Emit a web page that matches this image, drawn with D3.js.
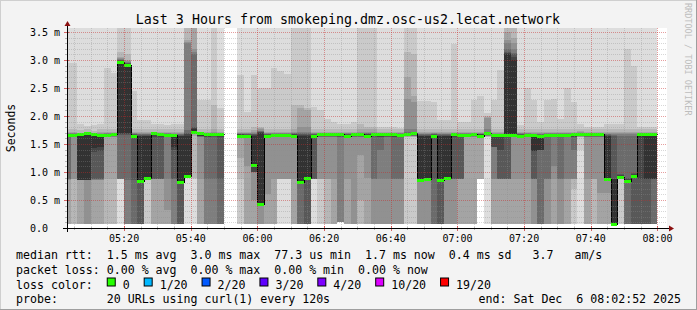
<!DOCTYPE html>
<html>
<head>
<meta charset="utf-8">
<script src="https://cdn.jsdelivr.net/npm/d3@7"></script>
<style>
  html, body { margin: 0; padding: 0; background: #f3f3f3; }
  svg { display: block; }
  text { font-family: "DejaVu Sans Mono", monospace; fill: #000; }
</style>
</head>
<body>
<svg id="chart" width="697" height="310"></svg>
<script>
// SMOKEPING CHART //

// 2 minute steps, first one begins at 05:02 (UTC, as printed on the chart)
const stepStart = Date.UTC(2025, 11, 6, 5, 2)
const stepMs = 120000

// median rtt per step in ms (null = no data)
const median = [
  1.66, 1.66, 1.67, 1.69, 1.67, 1.66, 1.66, 1.67, 2.97, 2.91,
  1.64, 0.84, 0.90, 1.69, 1.67, 1.66, 1.66, 0.82, 0.93, 1.71,
  1.69, 1.67, 1.67, 1.67, null, null, 1.65, 1.65, 1.13, 0.43,
  1.65, 1.66, 1.66, 1.66, 1.65, 0.82, 0.90, 1.65, 1.68, 1.68,
  1.67, 1.67, 1.65, 1.67, 1.67, 1.65, 1.67, 1.67, 1.67, 1.67,
  1.66, 1.68, 1.69, 0.85, 0.87, 1.65, 0.85, 0.90, 1.67, 1.66,
  1.66, 1.67, 1.64, 1.70, 1.66, 1.66, 1.66, 1.66, 1.65, 1.66,
  1.66, 1.65, 1.66, 1.66, 1.66, 1.66, 1.68, 1.68, 1.67, 1.67,
  1.67, 0.87, 0.08, 0.91, 0.84, 0.92, 1.68, 1.68, 1.68
]

// the 20 sorted pings of every step in ms (null = no data)
const pings = [
  [0.08,0.08,0.08,0.08,0.86,0.87,0.88,1.62,1.63,1.64,1.65,1.66,1.67,1.68,1.69,1.70,1.72,1.76,2.94,3.80],
  [0.08,0.08,0.08,0.87,0.88,1.62,1.63,1.64,1.65,1.65,1.66,1.66,1.67,1.68,1.69,1.70,1.72,1.76,2.94,3.80],
  [0.08,0.08,0.08,0.08,0.85,0.85,0.85,0.86,0.86,0.86,1.65,1.66,1.67,1.67,1.68,1.69,1.70,1.75,1.85,3.80],
  [0.08,0.08,0.08,0.08,0.08,0.85,0.85,0.86,0.86,0.86,1.66,1.68,1.69,1.69,1.70,1.71,1.72,1.76,1.82,3.80],
  [0.08,0.08,0.08,0.08,0.86,0.86,0.87,0.87,1.35,1.42,1.64,1.66,1.67,1.67,1.68,1.69,1.70,1.74,1.84,3.80],
  [0.08,0.08,0.08,0.08,0.86,0.86,0.87,0.87,1.38,1.45,1.64,1.65,1.66,1.67,1.68,1.69,1.71,1.76,1.86,3.80],
  [0.08,0.08,0.08,0.88,1.62,1.63,1.64,1.65,1.65,1.66,1.66,1.67,1.67,1.68,1.69,1.70,1.72,1.76,2.85,3.80],
  [0.08,0.08,0.08,0.88,1.62,1.63,1.64,1.65,1.65,1.66,1.66,1.67,1.67,1.68,1.69,1.70,1.72,1.76,2.76,3.80],
  [0.08,0.87,0.87,0.87,0.87,0.87,0.87,1.66,1.68,1.70,2.97,2.98,3.00,3.00,3.02,3.04,3.06,3.15,3.70,3.80],
  [0.08,0.08,0.08,0.08,0.08,0.08,0.85,1.66,1.68,1.70,2.92,2.93,2.94,2.95,2.96,2.98,3.00,3.10,3.70,3.80],
  [0.08,0.08,0.08,0.08,0.08,0.08,0.08,0.85,1.62,1.64,1.65,1.66,1.67,1.68,1.69,1.70,1.72,1.76,2.45,3.80],
  [0.08,0.08,0.08,0.08,0.08,0.08,0.08,0.08,0.84,0.84,1.64,1.65,1.66,1.67,1.68,1.70,1.72,1.76,1.92,3.80],
  [0.08,0.08,0.90,0.90,0.90,0.90,0.90,0.90,0.90,0.90,1.64,1.65,1.66,1.67,1.68,1.70,1.72,1.76,1.92,3.80],
  [0.08,0.08,0.08,0.08,0.87,0.87,0.87,0.87,1.62,1.64,1.65,1.66,1.67,1.68,1.69,1.70,1.72,1.76,1.86,3.80],
  [0.08,0.08,0.08,0.08,0.87,0.87,0.87,0.87,1.62,1.64,1.65,1.66,1.67,1.68,1.69,1.70,1.72,1.76,1.86,3.80],
  [0.08,0.08,0.08,0.08,0.32,0.87,1.62,1.63,1.64,1.65,1.66,1.66,1.67,1.68,1.69,1.70,1.72,1.76,1.84,3.80],
  [0.08,0.08,0.08,0.08,0.08,0.08,0.87,0.87,1.40,1.45,1.64,1.65,1.66,1.67,1.68,1.70,1.72,1.76,1.85,3.80],
  [0.08,0.08,0.08,0.08,0.08,0.08,0.08,0.08,0.82,0.82,1.64,1.65,1.66,1.67,1.68,1.70,1.72,1.76,1.85,3.80],
  [0.08,0.90,0.90,0.90,0.90,0.90,0.90,0.90,0.90,0.93,1.65,1.68,1.70,1.75,3.30,3.32,3.35,3.70,3.75,3.80],
  [0.08,0.87,0.90,1.65,1.68,1.70,1.71,1.72,1.73,1.74,1.76,1.78,1.80,3.10,3.15,3.20,3.70,3.75,3.80,3.85],
  [0.08,0.08,0.08,0.08,0.87,1.62,1.63,1.64,1.65,1.65,1.66,1.66,1.67,1.68,1.69,1.70,1.72,1.76,2.28,3.80],
  [0.08,0.08,0.08,0.08,0.08,0.08,0.87,1.62,1.63,1.64,1.65,1.66,1.67,1.68,1.69,1.70,1.72,1.76,2.28,3.80],
  [0.08,0.08,0.08,0.08,0.08,0.08,0.87,1.62,1.64,1.65,1.66,1.67,1.68,1.69,1.70,1.72,1.76,2.20,3.70,3.80],
  [0.08,0.08,0.08,0.08,0.08,0.08,0.08,0.87,1.62,1.64,1.65,1.66,1.67,1.68,1.69,1.70,1.72,1.76,2.15,3.80],
  null,
  null,
  [0.08,0.08,0.87,1.25,1.62,1.63,1.64,1.65,1.65,1.66,1.66,1.67,1.67,1.68,1.69,1.70,1.72,1.76,2.73,3.80],
  [0.08,0.08,0.08,0.08,1.10,1.62,1.63,1.64,1.65,1.65,1.66,1.66,1.67,1.68,1.69,1.70,1.72,1.76,2.07,3.80],
  [0.08,0.08,0.08,0.08,0.50,1.00,1.00,1.00,1.00,1.13,1.65,1.66,1.67,1.68,1.70,1.72,1.75,1.80,2.73,3.80],
  [0.08,0.08,0.08,0.08,0.08,0.43,0.43,0.43,0.43,0.43,1.70,1.71,1.72,1.73,1.74,1.76,1.78,1.80,2.50,3.80],
  [0.08,0.08,0.08,0.08,0.60,1.62,1.63,1.64,1.65,1.65,1.66,1.66,1.67,1.68,1.69,1.70,1.72,1.76,2.50,3.80],
  [0.08,0.08,0.08,0.08,0.87,1.62,1.63,1.64,1.65,1.65,1.66,1.66,1.67,1.68,1.69,1.70,1.72,1.76,2.86,3.80],
  [0.08,0.87,0.87,0.87,0.87,1.62,1.63,1.64,1.65,1.65,1.66,1.66,1.67,1.68,1.69,1.70,1.72,1.76,2.80,3.80],
  [0.08,0.87,0.87,0.87,0.87,1.62,1.63,1.64,1.65,1.65,1.66,1.66,1.67,1.68,1.69,1.70,1.72,1.76,2.75,3.80],
  [0.08,0.08,0.08,0.08,0.87,1.62,1.63,1.64,1.65,1.66,1.66,1.67,1.68,1.69,1.70,1.72,1.76,2.20,3.70,3.80],
  [0.08,0.08,0.08,0.08,0.08,0.08,0.08,0.82,0.82,0.82,1.65,1.66,1.68,1.70,1.72,1.80,2.15,2.20,3.70,3.80],
  [0.08,0.08,0.08,0.08,0.08,0.08,0.08,0.08,0.90,0.90,1.65,1.66,1.68,1.70,1.72,1.80,2.10,2.15,3.70,3.80],
  [0.08,0.87,0.87,0.87,0.87,0.87,0.87,0.87,1.62,1.64,1.65,1.66,1.67,1.68,1.69,1.70,1.72,1.76,2.16,3.80],
  [0.08,0.08,0.87,0.87,0.87,1.62,1.63,1.64,1.65,1.65,1.66,1.66,1.67,1.68,1.69,1.70,1.72,1.76,2.10,3.80],
  [0.08,0.08,0.08,0.87,0.87,1.62,1.63,1.64,1.65,1.65,1.66,1.66,1.67,1.68,1.69,1.70,1.72,1.76,1.95,3.80],
  [0.08,0.08,0.08,0.08,0.87,1.62,1.63,1.64,1.65,1.65,1.66,1.66,1.67,1.68,1.69,1.70,1.72,1.76,1.90,3.80],
  [0.10,0.10,0.10,0.10,0.10,0.10,1.62,1.63,1.64,1.65,1.66,1.66,1.67,1.68,1.69,1.70,1.72,1.76,1.85,3.80],
  [0.08,0.08,0.08,0.08,0.87,1.62,1.63,1.64,1.65,1.65,1.66,1.66,1.67,1.68,1.69,1.70,1.72,1.76,1.85,3.80],
  [0.08,0.08,0.08,0.08,0.08,1.62,1.63,1.64,1.65,1.65,1.66,1.66,1.67,1.68,1.69,1.70,1.72,1.76,1.90,3.80],
  [0.08,0.08,0.08,0.50,1.30,1.62,1.63,1.64,1.65,1.66,1.66,1.67,1.68,1.69,1.70,1.72,1.76,1.85,3.70,3.80],
  [0.08,0.08,0.08,0.08,0.90,1.62,1.63,1.64,1.65,1.66,1.66,1.67,1.68,1.69,1.70,1.72,1.76,1.80,3.70,3.80],
  [0.08,0.08,0.08,0.08,0.08,0.87,0.87,1.62,1.64,1.65,1.66,1.67,1.68,1.69,1.70,1.72,1.76,1.80,3.70,3.80],
  [0.08,0.08,0.08,0.08,0.08,0.87,1.40,1.62,1.63,1.64,1.65,1.66,1.67,1.68,1.69,1.70,1.72,1.76,1.80,3.80],
  [0.08,0.08,0.08,0.08,0.08,0.87,1.62,1.63,1.64,1.65,1.66,1.66,1.67,1.68,1.69,1.70,1.72,1.76,1.80,3.80],
  [0.08,0.08,0.08,0.08,0.08,0.87,0.87,1.62,1.63,1.64,1.65,1.66,1.67,1.68,1.69,1.70,1.72,1.76,1.80,3.80],
  [0.08,0.08,0.08,0.08,0.08,0.87,0.87,1.62,1.63,1.64,1.65,1.66,1.67,1.68,1.69,1.70,1.72,1.76,1.78,3.80],
  [0.08,0.08,1.62,1.63,1.64,1.65,1.65,1.66,1.66,1.67,1.68,1.69,1.70,1.72,1.76,2.30,2.70,3.15,3.70,3.80],
  [0.08,0.08,1.62,1.63,1.64,1.65,1.65,1.66,1.66,1.67,1.68,1.69,1.70,1.72,1.76,2.25,2.35,3.10,3.70,3.80],
  [0.08,0.08,0.08,0.08,0.08,0.85,0.85,0.85,0.85,0.85,1.64,1.65,1.66,1.67,1.68,1.70,1.72,1.76,2.26,3.80],
  [0.08,0.08,0.08,0.08,0.08,0.87,0.87,0.87,0.87,0.87,1.64,1.65,1.66,1.67,1.68,1.70,1.72,1.76,2.26,3.80],
  [0.08,0.08,0.08,0.08,0.08,0.08,0.08,0.87,1.62,1.64,1.65,1.66,1.67,1.68,1.69,1.70,1.72,1.76,2.25,3.80],
  [0.08,0.08,0.08,0.08,0.08,0.08,0.08,0.08,0.85,0.85,1.64,1.65,1.66,1.67,1.68,1.70,1.72,1.76,1.93,3.80],
  [0.08,0.08,0.08,0.08,0.08,0.90,0.90,0.90,0.90,0.90,1.64,1.65,1.66,1.67,1.68,1.70,1.72,1.76,1.93,3.80],
  [0.08,0.08,0.08,0.08,0.08,0.87,0.87,0.87,1.62,1.64,1.65,1.66,1.67,1.68,1.69,1.70,1.72,1.76,3.29,3.80],
  [0.08,0.08,0.08,0.08,0.87,0.87,0.87,0.87,1.62,1.64,1.65,1.66,1.67,1.68,1.69,1.70,1.72,1.76,1.90,3.80],
  [0.08,0.08,0.08,0.08,1.62,1.63,1.64,1.65,1.65,1.66,1.66,1.67,1.67,1.68,1.69,1.70,1.72,1.76,1.90,3.80],
  [0.08,0.08,0.08,0.08,1.62,1.63,1.64,1.65,1.65,1.66,1.66,1.67,1.67,1.68,1.69,1.70,1.72,1.76,2.28,3.80],
  [0.87,0.87,0.87,0.87,1.62,1.63,1.64,1.65,1.65,1.66,1.66,1.67,1.67,1.68,1.69,1.70,1.72,1.76,2.35,3.80],
  [0.08,1.62,1.63,1.64,1.65,1.65,1.66,1.66,1.67,1.67,1.68,1.69,1.70,1.72,1.76,1.96,1.98,2.00,2.05,3.80],
  [0.08,0.08,0.08,0.08,0.87,0.87,1.45,1.45,1.45,1.63,1.64,1.65,1.66,1.67,1.68,1.70,1.72,1.76,2.28,3.80],
  [0.08,0.08,0.08,0.08,0.87,0.87,0.87,0.87,1.40,1.63,1.64,1.65,1.66,1.67,1.68,1.70,1.72,1.76,2.82,3.80],
  [0.08,0.08,0.08,0.08,0.87,0.87,0.87,0.87,1.62,1.66,3.10,3.12,3.15,3.20,3.30,3.35,3.50,3.70,3.75,3.80],
  [0.08,0.08,0.08,0.08,0.87,1.62,1.63,1.64,1.65,1.66,3.00,3.05,3.10,3.12,3.20,3.30,3.40,3.70,3.75,3.80],
  [0.08,0.08,0.08,0.08,0.87,1.62,1.63,1.64,1.65,1.65,1.66,1.66,1.67,1.68,1.69,1.70,1.72,1.76,1.84,3.80],
  [0.08,0.08,0.08,0.08,0.87,1.62,1.63,1.64,1.65,1.65,1.66,1.66,1.67,1.68,1.69,1.70,1.72,1.76,2.50,3.80],
  [0.08,0.08,0.08,0.08,0.08,0.87,0.87,0.87,1.38,1.38,1.64,1.65,1.66,1.67,1.68,1.70,1.72,1.76,2.28,3.80],
  [0.08,0.08,0.08,0.08,0.08,0.08,0.08,1.40,1.40,1.40,1.64,1.65,1.66,1.67,1.68,1.70,1.72,1.76,1.90,3.80],
  [0.08,0.08,0.08,0.08,0.08,0.87,0.87,1.62,1.63,1.64,1.65,1.66,1.67,1.68,1.69,1.70,1.72,1.76,2.28,3.80],
  [0.08,0.08,0.08,0.08,0.87,1.10,1.62,1.63,1.64,1.65,1.66,1.66,1.67,1.68,1.69,1.70,1.72,1.76,2.30,3.80],
  [0.08,0.08,0.08,0.08,0.08,0.87,0.87,1.62,1.63,1.64,1.65,1.66,1.67,1.68,1.69,1.70,1.72,1.76,1.95,3.80],
  [0.08,0.08,0.08,0.08,0.87,0.87,1.62,1.63,1.64,1.65,1.66,1.66,1.67,1.68,1.69,1.70,1.72,1.76,2.50,3.80],
  [0.08,0.08,0.70,0.87,0.87,0.87,1.40,1.62,1.63,1.64,1.65,1.66,1.67,1.68,1.69,1.70,1.72,1.76,2.25,3.80],
  [0.08,1.40,1.62,1.63,1.63,1.64,1.65,1.65,1.66,1.66,1.67,1.67,1.68,1.69,1.70,1.72,1.74,1.77,1.85,3.80],
  [0.08,0.08,0.08,0.08,0.87,1.62,1.63,1.64,1.65,1.65,1.66,1.66,1.67,1.68,1.69,1.70,1.72,1.76,1.80,3.80],
  [0.08,0.08,0.08,0.87,0.87,1.62,1.63,1.64,1.65,1.65,1.66,1.66,1.67,1.68,1.69,1.70,1.72,1.76,1.80,3.80],
  [0.08,0.08,0.08,0.08,0.62,1.62,1.63,1.64,1.65,1.65,1.66,1.66,1.67,1.68,1.69,1.70,1.72,1.76,1.80,3.80],
  [0.08,0.08,0.08,0.08,0.62,0.87,0.87,0.87,0.87,0.87,1.64,1.65,1.66,1.67,1.68,1.70,1.72,1.76,1.85,3.80],
  [0.07,0.07,0.07,0.07,0.07,0.07,0.07,0.07,0.07,0.07,0.87,0.87,1.65,1.66,1.68,1.70,1.72,1.76,1.85,3.80],
  [0.08,0.08,0.91,0.91,0.91,0.91,0.91,0.91,0.91,0.91,0.93,0.95,0.97,1.65,1.67,1.69,1.72,1.76,1.85,3.80],
  [0.08,0.08,0.08,0.08,0.08,0.08,0.08,0.84,0.84,0.84,0.86,0.88,0.90,1.65,1.67,1.69,1.72,1.76,3.20,3.80],
  [0.08,0.08,0.08,0.08,0.08,0.08,0.08,0.08,0.92,0.92,0.94,0.96,0.98,1.65,1.67,1.69,1.72,1.76,2.90,3.80],
  [0.08,0.08,0.08,0.08,0.08,0.08,0.08,0.08,0.87,1.63,1.64,1.65,1.66,1.67,1.68,1.70,1.72,1.76,1.80,3.80],
  [0.08,0.08,0.08,0.08,0.08,0.08,0.08,0.08,0.87,0.87,1.64,1.65,1.66,1.67,1.68,1.70,1.72,1.76,1.80,3.80],
  [0.08,0.08,0.08,0.08,0.08,0.08,0.08,0.87,0.87,0.87,1.64,1.65,1.66,1.67,1.68,1.70,1.72,1.76,1.80,3.80]
]

// axis labels
const yTicks = [0, 0.5, 1.0, 1.5, 2.0, 2.5, 3.0, 3.5]
const yLabels = ["0.0", "0.5 m", "1.0 m", "1.5 m", "2.0 m", "2.5 m", "3.0 m", "3.5 m"]
const xLabels = ["05:20", "05:40", "06:00", "06:20", "06:40", "07:00", "07:20", "07:40", "08:00"]

// legend
const statLines = [
  "median rtt:  1.5 ms avg  3.0 ms max  77.3 us min  1.7 ms now  0.4 ms sd   3.7   am/s",
  "packet loss: 0.00 % avg  0.00 % max  0.00 % min  0.00 % now"
]
const lossLabels = ["0", "1/20", "2/20", "3/20", "4/20", "10/20", "19/20"]
const lossColors = ["#26ff00", "#00b8ff", "#0059ff", "#5e00ff", "#7e00ff", "#dd00ff", "#ff0000"]
const probeText = "probe:       20 URLs using curl(1) every 120s"
const endText = "end: Sat Dec  6 08:02:52 2025"
const titleText = "Last 3 Hours from smokeping.dmz.osc-us2.lecat.network"

// Define the dimensions
let svg = d3.select("#chart")
let width = +svg.attr("width")
let height = +svg.attr("height")
let plot = {left: 67, right: 667, top: 28, bottom: 228}

let x = d3.scaleUtc()
  .domain([Date.UTC(2025, 11, 6, 5, 2, 52), Date.UTC(2025, 11, 6, 8, 2, 52)])
  .range([plot.left, plot.right])
let y = d3.scaleLinear()
  .domain([0, (plot.bottom - plot.top) / 56])
  .range([plot.bottom, plot.top])

const hhmm = (s) => {
  let [h, m] = s.split(":").map(Number)
  return Date.UTC(2025, 11, 6, h, m)
}

// smokeping grey shades, band 1 (min..max) lightest, band 10 darkest
const smokeColor = (i) => {
  let c = Math.floor(190 / 10 * (10 - i)) + 50
  let h = c.toString(16).padStart(2, "0")
  return "#" + h + h + h
}

// Background and frame
svg.append("rect").attr("width", width).attr("height", height).attr("fill", "#f3f3f3")
svg.append("path").attr("d", `M0,${height} V0 H${width}`).attr("fill", "none")
  .attr("stroke", "#cfcfcf").attr("stroke-width", 2)
svg.append("path").attr("d", `M${width},0 V${height} H0`).attr("fill", "none")
  .attr("stroke", "#9e9e9e").attr("stroke-width", 2)

svg.append("defs").append("clipPath").attr("id", "clip")
  .append("rect").attr("x", plot.left).attr("y", plot.top)
  .attr("width", plot.right - plot.left).attr("height", plot.bottom - plot.top)

svg.append("rect")
  .attr("x", plot.left).attr("y", plot.top)
  .attr("width", plot.right - plot.left).attr("height", plot.bottom - plot.top)
  .attr("fill", "#ffffff")

let g = svg.append("g").attr("clip-path", "url(#clip)").attr("shape-rendering", "crispEdges")

// Smoke: band i spans ping i .. ping 21-i
pings.forEach((p, k) => {
  if (!p) return
  let s = stepStart + k * stepMs
  let x0 = Math.round(x(s)), x1 = Math.round(x(s + stepMs))
  for (let i = 1; i <= 10; i++) {
    let top = Math.round(y(p[20 - i])), bot = Math.round(y(p[i - 1]))
    if (bot - top <= 0) continue
    g.append("rect")
      .attr("x", x0).attr("width", x1 - x0)
      .attr("y", top).attr("height", bot - top)
      .attr("fill", smokeColor(i))
  }
})

// Median: thin dark step line, then the loss coloured bars on top
let medPts = []
median.forEach((m, k) => {
  let s = stepStart + k * stepMs
  if (m == null) { medPts.push(null); return }
  medPts.push({t: s, v: m}, {t: s + stepMs, v: m})
})
let medLine = d3.line()
  .defined((d) => d != null)
  .x((d) => Math.round(x(d.t)) + 0.5)
  .y((d) => Math.round(y(d.v)) + 0.5)
g.append("path")
  .attr("d", medLine(medPts))
  .attr("fill", "none")
  .attr("stroke", "#000")
  .attr("stroke-width", 1)

median.forEach((m, k) => {
  if (m == null) return
  let s = stepStart + k * stepMs
  let x0 = Math.round(x(s)), x1 = Math.round(x(s + stepMs))
  g.append("rect")
    .attr("x", x0).attr("width", x1 - x0)
    .attr("y", Math.round(y(m)) - 1).attr("height", 3)
    .attr("fill", lossColors[0])
})

// Grid (drawn over the data like rrdtool does)
let grid = svg.append("g").attr("shape-rendering", "crispEdges").attr("stroke-dasharray", "1,1")
let minorY = d3.range(1, 36).filter((i) => i % 5 != 0).map((i) => i / 10)
let majorX = xLabels.map(hhmm)
let minorX = d3.utcMinute.every(5).range(x.domain()[0], x.domain()[1])
  .filter((d) => d.getUTCMinutes() % 20 != 0)

grid.selectAll(".minor-y").data(minorY).enter().append("line")
  .attr("x1", plot.left).attr("x2", plot.right)
  .attr("y1", (d) => Math.round(y(d)) + 0.5).attr("y2", (d) => Math.round(y(d)) + 0.5)
  .attr("stroke", "rgba(140,140,140,0.35)")
grid.selectAll(".minor-x").data(minorX).enter().append("line")
  .attr("x1", (d) => Math.round(x(d)) + 0.5).attr("x2", (d) => Math.round(x(d)) + 0.5)
  .attr("y1", plot.top).attr("y2", plot.bottom)
  .attr("stroke", "rgba(140,140,140,0.35)")
grid.selectAll(".major-y").data(yTicks.slice(1)).enter().append("line")
  .attr("x1", plot.left).attr("x2", plot.right)
  .attr("y1", (d) => Math.round(y(d)) + 0.5).attr("y2", (d) => Math.round(y(d)) + 0.5)
  .attr("stroke", "rgba(200,40,40,0.45)")
grid.selectAll(".major-x").data(majorX).enter().append("line")
  .attr("x1", (d) => Math.round(x(d)) + 0.5).attr("x2", (d) => Math.round(x(d)) + 0.5)
  .attr("y1", plot.top).attr("y2", plot.bottom)
  .attr("stroke", "rgba(200,40,40,0.45)")

// Ticks on the axes
let ticks = svg.append("g").attr("shape-rendering", "crispEdges")
ticks.selectAll(".tx").data(minorX).enter().append("line")
  .attr("x1", (d) => Math.round(x(d)) + 0.5).attr("x2", (d) => Math.round(x(d)) + 0.5)
  .attr("y1", plot.bottom - 1).attr("y2", plot.bottom + 2)
  .attr("stroke", "rgba(140,140,140,0.6)")
ticks.selectAll(".tX").data(majorX).enter().append("line")
  .attr("x1", (d) => Math.round(x(d)) + 0.5).attr("x2", (d) => Math.round(x(d)) + 0.5)
  .attr("y1", plot.bottom - 2).attr("y2", plot.bottom + 3)
  .attr("stroke", "rgba(200,40,40,0.7)")
ticks.selectAll(".ty").data(minorY).enter().append("line")
  .attr("x1", plot.left - 2).attr("x2", plot.left + 1)
  .attr("y1", (d) => Math.round(y(d)) + 0.5).attr("y2", (d) => Math.round(y(d)) + 0.5)
  .attr("stroke", "rgba(140,140,140,0.6)")
ticks.selectAll(".tY").data(yTicks).enter().append("line")
  .attr("x1", plot.left - 3).attr("x2", plot.left + 2)
  .attr("y1", (d) => Math.round(y(d)) + 0.5).attr("y2", (d) => Math.round(y(d)) + 0.5)
  .attr("stroke", "rgba(200,40,40,0.7)")

// Axes with arrows
let axis = svg.append("g").attr("shape-rendering", "crispEdges")
axis.append("line").attr("x1", plot.left - 4).attr("x2", plot.right + 4)
  .attr("y1", plot.bottom + 0.5).attr("y2", plot.bottom + 0.5).attr("stroke", "#000")
axis.append("line").attr("x1", plot.left + 0.5).attr("x2", plot.left + 0.5)
  .attr("y1", plot.bottom + 4).attr("y2", plot.top - 2).attr("stroke", "#000")
svg.append("path")
  .attr("d", `M${plot.right + 2},${plot.bottom - 2.5} L${plot.right + 7},${plot.bottom + 0.5} L${plot.right + 2},${plot.bottom + 3.5} Z`)
  .attr("fill", "#8b1010")
svg.append("path")
  .attr("d", `M${plot.left - 2.5},${plot.top - 2} L${plot.left + 0.5},${plot.top - 7} L${plot.left + 3.5},${plot.top - 2} Z`)
  .attr("fill", "#8b1010")

// Axis labels
svg.selectAll(".ylab").data(yTicks).enter().append("text")
  .attr("x", 30).attr("y", (d) => y(d) + 3.5)
  .style("font-size", "10px")
  .text((d, i) => yLabels[i])
svg.selectAll(".xlab").data(xLabels).enter().append("text")
  .attr("x", (d) => x(hhmm(d))).attr("y", 242)
  .attr("text-anchor", "middle")
  .style("font-size", "10px")
  .text((d) => d)

svg.append("text")
  .attr("transform", "translate(14.5,128) rotate(-90)")
  .attr("text-anchor", "middle")
  .style("font-size", "11.5px")
  .text("Seconds")

svg.append("text")
  .attr("x", 348).attr("y", 23.5)
  .attr("text-anchor", "middle")
  .style("font-size", "13.3px")
  .text(titleText)

svg.append("text")
  .attr("transform", "translate(684.5,3) rotate(90)")
  .style("font-size", "8.5px")
  .style("fill", "#bdbdbd")
  .text("RRDTOOL / TOBI OETIKER")

// Legend
const cw = 6.98
const lineY = [259, 274, 288.5, 303]
statLines.forEach((s, i) => {
  svg.append("text").attr("x", 16).attr("y", lineY[i])
    .style("font-size", "11.6px").style("white-space", "pre").text(s)
})
svg.append("text").attr("x", 16).attr("y", lineY[2])
  .style("font-size", "11.6px").text("loss color:")
let bx = 16 + 13 * cw
lossLabels.forEach((l, i) => {
  svg.append("rect").attr("x", bx + 0.5).attr("y", lineY[2] - 10.5)
    .attr("width", 8).attr("height", 8)
    .attr("fill", lossColors[i]).attr("stroke", "#000").attr("stroke-width", 1)
  svg.append("text").attr("x", bx + 16).attr("y", lineY[2])
    .style("font-size", "11.6px").text(l)
  bx = bx + 16 + (l.length + 2) * cw
})
svg.append("text").attr("x", 16).attr("y", lineY[3])
  .style("font-size", "11.6px").style("white-space", "pre").text(probeText)
svg.append("text").attr("x", 681).attr("y", lineY[3])
  .attr("text-anchor", "end")
  .style("font-size", "11.6px").style("white-space", "pre").text(endText)
</script>
</body>
</html>
